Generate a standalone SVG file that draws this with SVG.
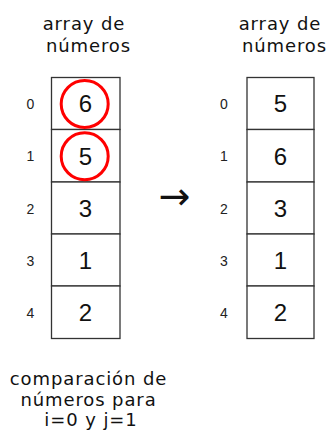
<svg xmlns="http://www.w3.org/2000/svg" width="329" height="430" viewBox="0 0 329 430">
<style>
.title{font-family:"DejaVu Sans",Verdana,sans-serif;font-size:18px;letter-spacing:0.9px;fill:#111;text-anchor:middle}
.idx{font-family:"Liberation Sans",Arial,sans-serif;font-size:14px;fill:#222;text-anchor:middle}
.num{font-family:"Liberation Sans",Arial,sans-serif;font-size:24px;fill:#111;text-anchor:middle}
.cell{fill:#fff;stroke:#333;stroke-width:1.3}
.mark{fill:none;stroke:#f00;stroke-width:3}
.arrow{font-family:"Noto Sans","DejaVu Sans",sans-serif;font-size:38px;fill:#111;text-anchor:middle}
</style>
<rect width="329" height="430" fill="#fff"/>
<g id="title-left">
<text class="title" x="84" y="30">array de</text>
<text class="title" x="88.5" y="51.5">números</text>
</g>
<g id="title-right">
<text class="title" x="280" y="30">array de</text>
<text class="title" x="284.5" y="51.5">números</text>
</g>
<g id="array-left">
<rect class="cell" x="51.5" y="77.5" width="68.5" height="52"/>
<rect class="cell" x="51.5" y="129.5" width="68.5" height="52.5"/>
<rect class="cell" x="51.5" y="182" width="68.5" height="52"/>
<rect class="cell" x="51.5" y="234" width="68.5" height="52"/>
<rect class="cell" x="51.5" y="286" width="68.5" height="52.5"/>
<text class="num" x="85.5" y="112">6</text>
<text class="num" x="85.5" y="164.5">5</text>
<text class="num" x="85.5" y="216.5">3</text>
<text class="num" x="85.5" y="268.5">1</text>
<text class="num" x="85.5" y="321">2</text>
<text class="idx" x="30.5" y="109">0</text>
<text class="idx" x="30.5" y="161">1</text>
<text class="idx" x="30.5" y="213.5">2</text>
<text class="idx" x="30.5" y="265.5">3</text>
<text class="idx" x="30.5" y="317.5">4</text>
<circle class="mark" cx="84.7" cy="104" r="23.5"/>
<circle class="mark" cx="84.7" cy="156.2" r="23.5"/>
</g>
<g id="arrow">
<text class="arrow" x="174.5" y="209">→</text>
</g>
<g id="array-right">
<rect class="cell" x="247" y="77.5" width="67" height="52"/>
<rect class="cell" x="247" y="129.5" width="67" height="52.5"/>
<rect class="cell" x="247" y="182" width="67" height="52"/>
<rect class="cell" x="247" y="234" width="67" height="52"/>
<rect class="cell" x="247" y="286" width="67" height="52.5"/>
<text class="num" x="280.5" y="112">5</text>
<text class="num" x="280.5" y="164.5">6</text>
<text class="num" x="280.5" y="216.5">3</text>
<text class="num" x="280.5" y="268.5">1</text>
<text class="num" x="280.5" y="321">2</text>
<text class="idx" x="224" y="109">0</text>
<text class="idx" x="224" y="161">1</text>
<text class="idx" x="224" y="213.5">2</text>
<text class="idx" x="224" y="265.5">3</text>
<text class="idx" x="224" y="317.5">4</text>
</g>
<g id="caption">
<text class="title" x="88.5" y="385">comparación de</text>
<text class="title" x="88.5" y="406">números para</text>
<text class="title" x="91" y="426">i=0 y j=1</text>
</g>
<g id="connectors"/>
</svg>
